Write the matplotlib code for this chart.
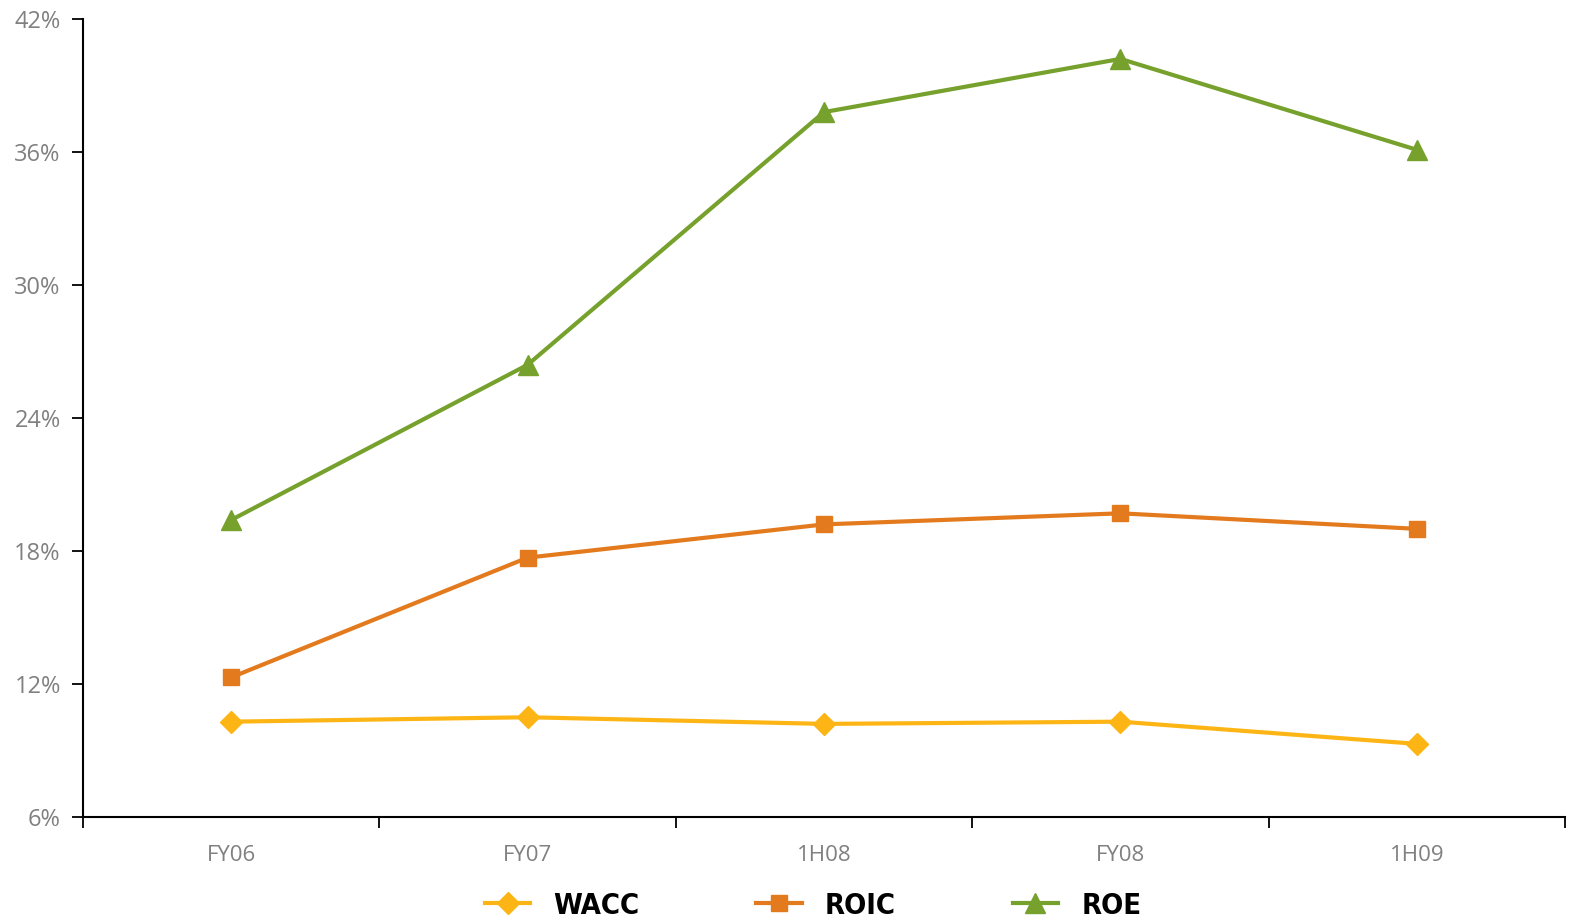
import matplotlib
matplotlib.use("Agg")
import matplotlib.pyplot as plt
from matplotlib.ticker import FixedLocator, NullFormatter, FixedFormatter

periods = ["FY06", "FY07", "1H08", "FY08", "1H09"]
wacc = [10.3, 10.5, 10.2, 10.3, 9.3]
roic = [12.3, 17.7, 19.2, 19.7, 19.0]
roe = [19.4, 26.4, 37.8, 40.2, 36.1]
y_ticks = [6, 12, 18, 24, 30, 36, 42]

fig = plt.figure(figsize=(15.7, 9.22), dpi=100)
ax = fig.add_axes([83 / 1570, 105 / 922, 1482 / 1570, 798 / 922])

x = list(range(len(periods)))
lw = 3.0
ax.plot(x, wacc, color="#FDB515", lw=lw, marker="D", ms=11, label="WACC")
ax.plot(x, roic, color="#E37B1E", lw=lw, marker="s", ms=12, label="ROIC")
ax.plot(x, roe, color="#76A12D", lw=lw, marker="^", ms=15, label="ROE")

ax.set_xlim(-0.5, len(periods) - 0.5)
ax.set_ylim(6, 42)

ax.xaxis.set_major_locator(FixedLocator([i - 0.5 for i in range(len(periods) + 1)]))
ax.xaxis.set_major_formatter(NullFormatter())
ax.xaxis.set_minor_locator(FixedLocator(x))
ax.xaxis.set_minor_formatter(FixedFormatter(periods))
ax.tick_params(axis="x", which="major", length=8, width=1.3, direction="out", color="black")
ax.tick_params(axis="x", which="minor", length=0, pad=20, labelsize=16, labelcolor="#808080")

ax.set_yticks(y_ticks)
ax.set_yticklabels([f"{v}%" for v in y_ticks])
ax.tick_params(axis="y", length=8, width=1.3, direction="out", labelsize=17, labelcolor="#808080", pad=8)

for lab in ax.get_xticklabels(minor=True) + ax.get_yticklabels():
    lab.set_family("Open Sans")

for side in ("top", "right"):
    ax.spines[side].set_visible(False)
for side in ("left", "bottom"):
    ax.spines[side].set_linewidth(1.5)

leg = fig.legend(loc="upper center", bbox_to_anchor=(0.518, 0.055), ncol=3, frameon=False,
                 prop={"family": "DejaVu Sans", "weight": "bold", "stretch": "condensed", "size": 21},
                 handlelength=1.55, handletextpad=0.8, columnspacing=4.0, borderpad=0.2)

fig.savefig("out.png", dpi=100)
